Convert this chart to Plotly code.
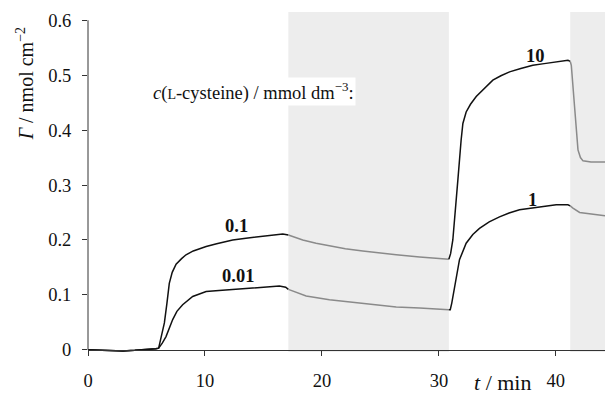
import numpy as np
import plotly.graph_objects as go

# ---- data ----
t_A = [0, 1, 2, 3, 4, 5, 5.8, 6.04, 6.3, 6.53, 6.75, 6.95, 7.2, 7.53, 8.0, 8.38, 9.0, 10.1,
       11.0, 12.37, 13.5, 14.37, 15.5, 16.65, 17.13, 18.36, 19.5, 20.64, 22.0, 23.49, 25.0,
       26.35, 28.35, 29.77, 30.85, 31.0, 31.19, 31.4, 31.62, 31.9, 32.05, 32.33, 32.7, 33.19,
       34.0, 34.61, 35.3, 36.04, 37.0, 38.03, 39.0, 40.03, 41.03, 41.23, 41.32, 41.6, 41.89,
       42.1, 42.32, 43.0, 44.2]
gamma_A = [0, -0.001, -0.002, -0.002, -0.001, 0.0, 0.002, 0.003, 0.025, 0.049, 0.085, 0.121,
           0.141, 0.156, 0.166, 0.173, 0.180, 0.188, 0.193, 0.200, 0.203, 0.205, 0.207, 0.211,
           0.209, 0.200, 0.194, 0.189, 0.184, 0.180, 0.176, 0.173, 0.169, 0.167, 0.165, 0.175,
           0.200, 0.260, 0.309, 0.382, 0.412, 0.433, 0.447, 0.461, 0.479, 0.491, 0.499, 0.506,
           0.512, 0.518, 0.521, 0.524, 0.527, 0.525, 0.518, 0.442, 0.364, 0.350, 0.344, 0.342,
           0.342]

t_B = [0, 1, 2, 3, 4, 5, 5.8, 6.04, 6.35, 6.67, 7.24, 7.6, 8.09, 8.95, 10.1, 11.2, 12.37,
       14.37, 16.36, 16.9, 17.13, 18.65, 20.64, 23.49, 26.35, 28.35, 29.77, 30.85, 30.97, 31.1,
       31.33, 31.76, 32.33, 32.9, 33.47, 34.3, 35.18, 36.0, 36.89, 38.6, 40.03, 41.03, 41.23,
       41.46, 42.03, 43.0, 44.2]
gamma_B = [0, -0.001, -0.002, -0.002, -0.001, 0.0, 0.002, 0.003, 0.012, 0.024, 0.055, 0.070,
           0.082, 0.097, 0.106, 0.108, 0.110, 0.113, 0.116, 0.114, 0.110, 0.098, 0.091, 0.084,
           0.078, 0.076, 0.074, 0.073, 0.073, 0.085, 0.115, 0.164, 0.194, 0.210, 0.221, 0.233,
           0.242, 0.249, 0.255, 0.260, 0.264, 0.264, 0.262, 0.258, 0.250, 0.247, 0.244]

# phase boundaries (min): adsorption / rinse / adsorption / rinse
phase_bounds = [0, 17.13, 30.85, 41.23, 44.2]
phase_is_rinse = [False, True, False, True]

x_ticks = [0, 10, 20, 30, 40]
y_ticks = [0, 0.1, 0.2, 0.3, 0.4, 0.5, 0.6]
y_ticktext = ["0", "0.1", "0.2", "0.3", "0.4", "0.5", "0.6"]
X_MAX = 44.2
Y_MIN = -0.004
Y_MAX = 0.615

conc_labels = ["0.1", "0.01", "10", "1"]
conc_t = [12.66, 12.8, 38.25, 38.03]
conc_g = [0.2255, 0.135, 0.535, 0.273]

SERIF = "Liberation Serif"

fig = go.Figure()

for t, g in [(t_A, gamma_A), (t_B, gamma_B)]:
    t = np.array(t); g = np.array(g)
    for i in range(len(phase_bounds) - 1):
        lo, hi = phase_bounds[i], phase_bounds[i + 1]
        m = (t >= lo - 1e-9) & (t <= hi + 1e-9)
        fig.add_trace(go.Scatter(
            x=t[m], y=g[m], mode="lines",
            line=dict(color="#8a8a8a" if phase_is_rinse[i] else "#111111", width=1.5),
            showlegend=False, hoverinfo="skip"))

# shaded rinse intervals
for i in range(len(phase_bounds) - 1):
    if phase_is_rinse[i]:
        fig.add_shape(type="rect", xref="x", yref="paper",
                      x0=phase_bounds[i], x1=phase_bounds[i + 1], y0=0, y1=1,
                      fillcolor="#ededed", line=dict(width=0), layer="below")

span = Y_MAX - Y_MIN
zero_frac = (0 - Y_MIN) / span
# y axis line from 0 up to 0.6
fig.add_shape(type="line", xref="paper", yref="paper", x0=0, x1=0,
              y0=zero_frac, y1=(y_ticks[-1] - Y_MIN) / span,
              line=dict(color="#333333", width=1))

for lab, tx, gy in zip(conc_labels, conc_t, conc_g):
    fig.add_annotation(x=tx, y=gy, text="<b>%s</b>" % lab, showarrow=False,
                       font=dict(family=SERIF, size=18.5, color="#111111"))

fig.add_annotation(x=5.4, y=0.47, xanchor="left", yanchor="middle",
                   text="<i>c</i>(<span style='font-size:14px'>L</span>-cysteine) / mmol dm<sup>−3</sup>:",
                   showarrow=False, bgcolor="white", borderpad=1,
                   font=dict(family=SERIF, size=18.5, color="#111111"))

fig.add_annotation(xref="paper", yref="paper", x=-0.122, y=0.79, xanchor="center",
                   yanchor="middle", textangle=-90,
                   text="<i>Γ</i> / nmol cm<sup>−2</sup>", showarrow=False,
                   font=dict(family=SERIF, size=20, color="#111111"))

fig.add_annotation(x=35.4, yref="paper", y=-0.09, yanchor="middle",
                   text="<i>t</i> / min", showarrow=False,
                   font=dict(family=SERIF, size=22, color="#111111"))

fig.update_layout(
    width=605, height=397,
    margin=dict(l=88, r=0, t=12, b=45),
    paper_bgcolor="white", plot_bgcolor="white",
    font=dict(family=SERIF, size=18.5, color="#111111"),
    xaxis=dict(range=[0, X_MAX], tickvals=x_ticks, ticks="outside", ticklen=5,
               tickcolor="#333333", showline=True, linecolor="#333333", linewidth=1,
               showgrid=False, zeroline=False, ticklabelstandoff=9,
               anchor="free", position=zero_frac,
               tickfont=dict(family=SERIF, size=18.5)),
    yaxis=dict(range=[Y_MIN, Y_MAX], tickvals=y_ticks, ticktext=y_ticktext,
               ticks="outside", ticklen=5, tickcolor="#333333", showline=False,
               showgrid=False, zeroline=False, ticklabelstandoff=7,
               tickfont=dict(family=SERIF, size=18.5)),
)

fig.write_html("out.html")
